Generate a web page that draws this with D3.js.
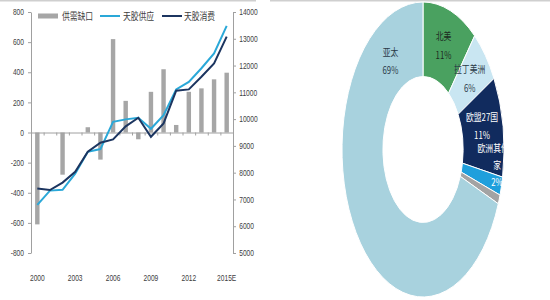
<!DOCTYPE html>
<html>
<head>
<meta charset="utf-8">
<script src="https://cdn.jsdelivr.net/npm/d3@7"></script>
<style>
  body { margin: 0; background: #fff; }
  text { font-family: "Liberation Sans", "Noto Sans CJK SC", sans-serif; }
</style>
</head>
<body>
<div id="chart"></div>
<script>
// left chart data
const years = ["2000","2001","2002","2003","2004","2005","2006","2007","2008","2009","2010","2011","2012","2013","2014","2015E"];
const shownYears = ["2000","2003","2006","2009","2012","2015E"];
const gap = [-610, 0, -280, 0, 35, -180, 620, 210, -45, 270, 420, 50, 270, 293, 353, 397];
const supply = [6800, 7330, 7360, 7960, 8780, 8880, 9900, 9990, 10050, 9640, 10150, 11110, 11390, 11900, 12450, 13480];
const consume = [7410, 7350, 7630, 8030, 8780, 9120, 9240, 9730, 10050, 9340, 9840, 11060, 11110, 11580, 12080, 13080];
const leftTicks = [-800, -600, -400, -200, 0, 200, 400, 600, 800];
const rightTicks = [5000, 6000, 7000, 8000, 9000, 10000, 11000, 12000, 13000, 14000];
const seriesNames = ["供需缺口", "天胶供应", "天胶消费"];

// right chart data
const regions = ["北美", "拉丁美洲", "欧盟27国", "欧洲其他国家", "其他", "亚太"];
const shares = [11, 6, 11, 2, 1, 69];

const gapColor = "#a6a6a6";
const supplyColor = "#2aa8d8";
const consumeColor = "#1c3560";
const regionColors = ["#4aa160", "#c9e6f2", "#112b5e", "#1f9fdc", "#a3a3a3", "#a8d2de"];
const squeeze = 0.78; // the whole picture is a bit narrowed

const svg = d3.select("#chart").append("svg")
    .attr("width", 550)
    .attr("height", 300);

// thin frames on top
svg.append("line").attr("x1", 0).attr("x2", 256).attr("y1", 0.5).attr("y2", 0.5)
    .attr("stroke", "#cfcfcf").attr("stroke-width", 2);
svg.append("line").attr("x1", 270).attr("x2", 550).attr("y1", 0.5).attr("y2", 0.5)
    .attr("stroke", "#cfcfcf").attr("stroke-width", 2);

// ---------- left chart ----------
const x0 = 31, x1 = 233, yTop = 12, yBot = 253;

const x = d3.scaleBand().domain(years).range([x0, x1]).paddingInner(0.65).paddingOuter(0.325);
const xEdge = d3.scaleLinear().domain([0, years.length]).range([x0, x1]);
const yL = d3.scaleLinear().domain([-800, 800]).range([yBot, yTop]);
const yR = d3.scaleLinear().domain([5000, 14000]).range([yBot, yTop]);
const plain = d => String(d); // plain hyphen, no thousands comma

function styleAxis(g) {
    g.select(".domain").attr("stroke", "#a0a0a0");
    g.selectAll(".tick line").attr("stroke", "#a0a0a0");
    g.selectAll(".tick text")
        .attr("fill", "#404040")
        .style("font-size", "8.5px")
        .attr("transform", `scale(${squeeze},1)`);
}

svg.append("g")
    .attr("transform", `translate(${x0},0)`)
    .call(d3.axisLeft(yL).tickValues(leftTicks).tickFormat(plain).tickSize(3).tickPadding(6).tickSizeOuter(0))
    .call(styleAxis);

svg.append("g")
    .attr("transform", `translate(${x1},0)`)
    .call(d3.axisRight(yR).tickValues(rightTicks).tickFormat(plain).tickSize(3).tickPadding(5).tickSizeOuter(0))
    .call(styleAxis);

// bars
svg.selectAll(".bar")
    .data(years.map((d, i) => ({ year: d, v: gap[i] })))
    .enter().append("rect")
    .attr("class", "bar")
    .attr("x", d => x(d.year))
    .attr("width", x.bandwidth())
    .attr("y", d => yL(Math.max(0, d.v)))
    .attr("height", d => Math.abs(yL(d.v) - yL(0)))
    .attr("fill", gapColor);

// zero line with category ticks
svg.append("g")
    .attr("transform", `translate(0,${yL(0)})`)
    .call(d3.axisBottom(xEdge).ticks(years.length).tickSize(3).tickFormat(""))
    .call(g => {
        g.select(".domain").attr("stroke", "#a0a0a0");
        g.selectAll(".tick line").attr("stroke", "#a0a0a0");
    });

// year labels at the bottom
svg.append("g")
    .attr("transform", `translate(0,${yBot + 22})`)
    .call(d3.axisBottom(x).tickValues(shownYears).tickSize(0).tickPadding(0))
    .call(g => {
        g.select(".domain").remove();
        g.selectAll(".tick text")
            .attr("fill", "#404040")
            .style("font-size", "8.5px")
            .attr("transform", `scale(${squeeze},1)`);
    });

// lines
const line = d3.line()
    .x((d, i) => x(years[i]) + x.bandwidth() / 2)
    .y(d => yR(d));

svg.append("path").datum(supply)
    .attr("d", line)
    .attr("fill", "none")
    .attr("stroke", supplyColor)
    .attr("stroke-width", 2);

svg.append("path").datum(consume)
    .attr("d", line)
    .attr("fill", "none")
    .attr("stroke", consumeColor)
    .attr("stroke-width", 2);

// legend
const legend = svg.append("g").attr("transform", "translate(0,16)");
legend.append("rect").attr("x", 38).attr("y", -2.5).attr("width", 20).attr("height", 5).attr("fill", gapColor);
legend.append("line").attr("x1", 100).attr("x2", 120).attr("stroke", supplyColor).attr("stroke-width", 2);
legend.append("line").attr("x1", 162).attr("x2", 182).attr("stroke", consumeColor).attr("stroke-width", 2);
[62, 123, 184].forEach((lx, i) => {
    legend.append("text")
        .attr("transform", `translate(${lx},0) scale(${squeeze},1)`)
        .attr("dy", "0.35em")
        .attr("fill", "#404040")
        .style("font-size", "10px")
        .style("font-family", "'Noto Sans CJK SC', sans-serif")
        .text(seriesNames[i]);
});

// ---------- right chart: donut ----------
const cx = 423, cy = 149.5, R = 147.5, rx = 81;
const kx = rx / R;

const pie = d3.pie().sort(null).value(d => d)(shares);
const arc = d3.arc().innerRadius(R * 0.495).outerRadius(R);

svg.append("defs").append("clipPath").attr("id", "donutClip")
    .append("rect").attr("x", 270).attr("y", 0).attr("width", 235).attr("height", 300);

const donut = svg.append("g").attr("clip-path", "url(#donutClip)");

donut.append("g")
    .attr("transform", `translate(${cx},${cy}) scale(${kx},1)`)
    .selectAll("path")
    .data(pie)
    .enter().append("path")
    .attr("d", arc)
    .attr("fill", (d, i) => regionColors[i])
    .attr("stroke", "#fff")
    .attr("stroke-width", 1)
    .attr("vector-effect", "non-scaling-stroke");

// label placement: centroid, with a few moved like in the original
const labelLines = [
    ["北美", "11%"],
    ["拉丁美洲", "6%"],
    ["欧盟27国", "11%"],
    ["欧洲其他国", "家", "2%"],
    [],
    ["亚太", "69%"]
];
// [angle in degrees, radius] for labels that are not on the centroid
const labelPolar = { 2: [77.7, 110], 3: [96.6, 135.7], 5: [326, 106] };
const labelStep = { 2: 18, 3: 17 };
const labelColors = ["#1d2b22", "#2b3a48", "#fff", "#fff", "#fff", "#2b3a48"];

pie.forEach((p, i) => {
    const lines = labelLines[i];
    if (!lines.length) return;
    let px, py;
    if (labelPolar[i]) {
        const a = labelPolar[i][0] * Math.PI / 180, r = labelPolar[i][1];
        px = Math.sin(a) * r; py = -Math.cos(a) * r;
    } else {
        [px, py] = arc.centroid(p);
    }
    const lx = cx + px * kx, ly = cy + py;
    const step = labelStep[i] || 18.5;
    const start = ly - step * (lines.length - 1) / 2;
    lines.forEach((t, j) => {
        donut.append("text")
            .attr("transform", `translate(${lx},${start + j * step}) scale(${squeeze},1)`)
            .attr("text-anchor", "middle")
            .attr("dy", "0.35em")
            .attr("fill", labelColors[i])
            .style("font-size", "10px")
            .style("font-family", "'Noto Sans CJK SC', sans-serif")
            .text(t);
    });
});
</script>
</body>
</html>
